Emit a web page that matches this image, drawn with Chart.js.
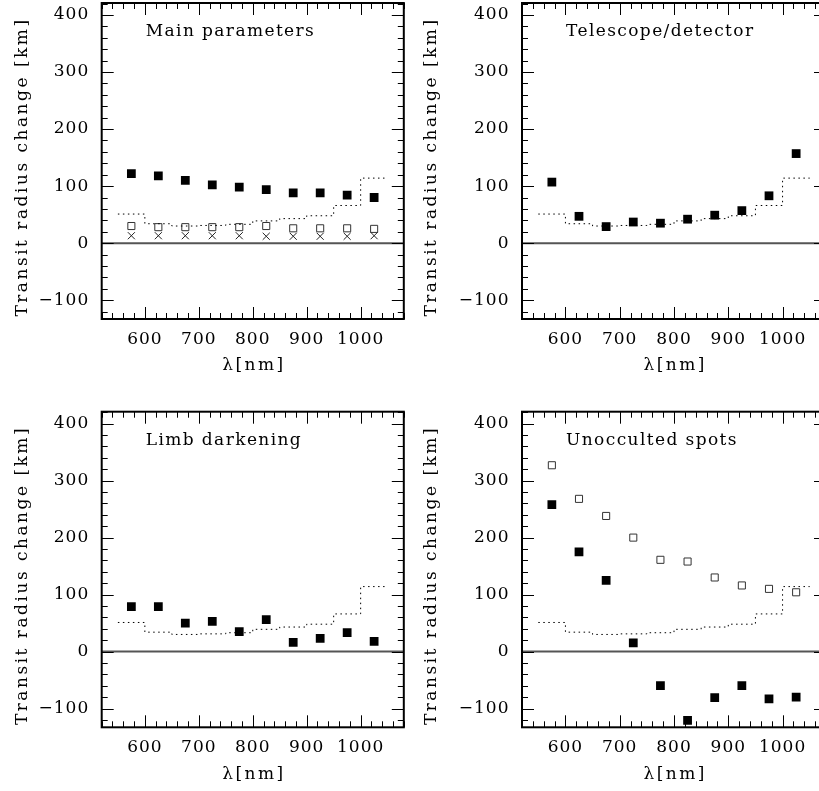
<!DOCTYPE html>
<html>
<head>
<meta charset="utf-8">
<script src="https://cdn.jsdelivr.net/npm/chart.js@4.4.0/dist/chart.umd.min.js"></script>
<style>
  html, body { margin: 0; padding: 0; background: #fff; overflow: hidden; width: 819px; height: 791px; }
  canvas { position: absolute; }
</style>
</head>
<body>
<canvas id="Chart_1" width="410" height="417" style="left:0px;top:-22px"></canvas>
<canvas id="Chart_2" width="420" height="417" style="left:414px;top:-22px"></canvas>
<canvas id="Chart_3" width="410" height="405" style="left:0px;top:386px"></canvas>
<canvas id="Chart_4" width="420" height="405" style="left:414px;top:386px"></canvas>
<script>
// wavelength bins (nm)
let wavelengths = [575, 625, 675, 725, 775, 825, 875, 925, 975, 1025];
let binEdges = [550, 600, 650, 700, 750, 800, 850, 900, 950, 1000, 1050];
// dotted step curve (same in every panel)
let errorLevel = [51, 34, 30, 31, 33, 39, 43, 48, 66, 114];

// Main parameters
let mainFilled = [122, 118, 110, 102, 98, 94, 88, 88, 84, 80];
let mainOpen = [30, 28, 28, 28, 28, 30, 26, 26, 26, 25];
let mainCross = [13, 13, 13, 13, 13, 12, 12, 12, 12, 13];
// Telescope/detector
let teleFilled = [107, 47, 29, 37, 35, 42, 49, 57, 83, 157];
// Limb darkening
let limbFilled = [79, 79, 50, 53, 35, 56, 16, 23, 33, 18];
// Unocculted spots
let spotsOpen = [327, 268, 238, 200, 161, 158, 130, 116, 110, 104];
let spotsFilled = [258, 175, 125, 15, -60, -121, -81, -60, -83, -80];

let xTicks = [600, 700, 800, 900, 1000];
let yTicks = [-100, 0, 100, 200, 300, 400];
let xRange = [520, 1080];
let yRange = [-133, 421];

const FONT = "'DejaVu Serif', serif";

function pts(ys) { return ys.map((y, i) => ({ x: wavelengths[i], y: y })); }
function stepPts() {
  let p = errorLevel.map((y, i) => ({ x: binEdges[i], y: y }));
  p.push({ x: binEdges[binEdges.length - 1], y: errorLevel[errorLevel.length - 1] });
  return p;
}

// frame, inside ticks, panel label and axis titles
const framePlugin = {
  id: 'frame',
  beforeDraw(chart) {
    chart.ctx.letterSpacing = '1px';
  },
  afterDraw(chart, args, opts) {
    const ctx = chart.ctx, a = chart.chartArea;
    const xs = chart.scales.x, ys = chart.scales.y;
    ctx.save();
    ctx.strokeStyle = '#000';
    ctx.lineWidth = 1;
    for (let v = Math.ceil(xRange[0] / 20) * 20; v <= xRange[1]; v += 20) {
      const px = Math.round(xs.getPixelForValue(v)) + 0.5;
      const len = v % 100 === 0 ? 12 : 6;
      ctx.beginPath();
      ctx.moveTo(px, a.bottom); ctx.lineTo(px, a.bottom - len);
      ctx.moveTo(px, a.top); ctx.lineTo(px, a.top + len);
      ctx.stroke();
    }
    for (let v = Math.ceil(yRange[0] / 20) * 20; v <= yRange[1]; v += 20) {
      const py = Math.round(ys.getPixelForValue(v)) + 0.5;
      const len = v % 100 === 0 ? 12 : 6;
      ctx.beginPath();
      ctx.moveTo(a.left, py); ctx.lineTo(a.left + len, py);
      ctx.moveTo(a.right, py); ctx.lineTo(a.right - len, py);
      ctx.stroke();
    }
    ctx.lineWidth = 2;
    ctx.strokeRect(a.left, a.top, a.right - a.left, a.bottom - a.top);

    ctx.fillStyle = '#000';
    ctx.font = '17px ' + FONT;
    ctx.letterSpacing = '1.4px';
    ctx.textAlign = 'left';
    ctx.textBaseline = 'middle';
    ctx.fillText(opts.label, a.left + 44, a.top + 29);

    ctx.letterSpacing = '2.5px';
    ctx.textAlign = 'center';
    ctx.fillText('λ[nm]', (a.left + a.right) / 2 + 1.2, a.bottom + 47);

    ctx.translate(a.left - opts.titleGap, (a.top + a.bottom) / 2 + 6);
    ctx.rotate(-Math.PI / 2);
    ctx.fillText('Transit radius change [km]', 0, 0);
    ctx.restore();
  }
};

function makeChart(id, label, series, layout) {
  let datasets = [
    { data: [{ x: xRange[0], y: 0 }, { x: xRange[1], y: 0 }], showLine: true, borderColor: '#555', borderWidth: 2, pointRadius: 0 },
    { data: stepPts(), showLine: true, stepped: 'before', borderColor: '#000', borderWidth: 1, borderDash: [1.5, 3.5], pointRadius: 0 }
  ];
  series.forEach(s => {
    if (s.kind === 'filled') {
      datasets.push({ data: pts(s.values), pointStyle: 'rect', pointRadius: 6.2, backgroundColor: '#000', borderColor: '#000', borderWidth: 0 });
    } else if (s.kind === 'open') {
      datasets.push({ data: pts(s.values), pointStyle: 'rect', pointRadius: 5, backgroundColor: '#fff', borderColor: '#333', borderWidth: 1 });
    } else {
      datasets.push({ data: pts(s.values), pointStyle: 'crossRot', pointRadius: 5, borderColor: '#222', borderWidth: 1 });
    }
  });
  return new Chart(document.getElementById(id), {
    type: 'scatter',
    data: { datasets: datasets },
    options: {
      responsive: false,
      animation: false,
      devicePixelRatio: 1,
      layout: { padding: { left: 0, right: layout.padRight, top: layout.padTop, bottom: 0 } },
      plugins: { legend: { display: false }, tooltip: { enabled: false }, frame: { label: label, titleGap: layout.titleGap } },
      scales: {
        x: {
          type: 'linear', min: xRange[0], max: xRange[1],
          afterBuildTicks: sc => { sc.ticks = xTicks.map(v => ({ value: v })); },
          afterFit: sc => { sc.height = layout.xHeight; },
          grid: { display: false, drawTicks: false }, border: { display: false },
          ticks: { color: '#000', font: { family: FONT, size: 17 }, padding: 10, maxRotation: 0, autoSkip: false,
            callback: v => String(v) }
        },
        y: {
          type: 'linear', min: yRange[0], max: yRange[1],
          afterBuildTicks: sc => { sc.ticks = yTicks.map(v => ({ value: v })); },
          afterFit: sc => { sc.width = layout.yWidth; },
          grid: { display: false, drawTicks: false }, border: { display: false },
          ticks: { color: '#000', font: { family: FONT, size: 17 }, padding: 12.5,
            callback: v => v < 0 ? '\u2212' + Math.abs(v) : String(v) }
        }
      }
    },
    plugins: [framePlugin]
  });
}

let grafico1 = makeChart('Chart_1', 'Main parameters',
  [{ kind: 'cross', values: mainCross }, { kind: 'open', values: mainOpen }, { kind: 'filled', values: mainFilled }],
  { yWidth: 101.7, xHeight: 76, padTop: 25, padRight: 4, titleGap: 79 });
let grafico2 = makeChart('Chart_2', 'Telescope/detector',
  [{ kind: 'filled', values: teleFilled }],
  { yWidth: 108, xHeight: 76, padTop: 25, padRight: 8, titleGap: 90 });
let grafico3 = makeChart('Chart_3', 'Limb darkening',
  [{ kind: 'filled', values: limbFilled }],
  { yWidth: 101.7, xHeight: 63.7, padTop: 25.7, padRight: 4, titleGap: 79 });
let grafico4 = makeChart('Chart_4', 'Unocculted spots',
  [{ kind: 'open', values: spotsOpen }, { kind: 'filled', values: spotsFilled }],
  { yWidth: 108, xHeight: 63.7, padTop: 25.7, padRight: 8, titleGap: 90 });
</script>
</body>
</html>
